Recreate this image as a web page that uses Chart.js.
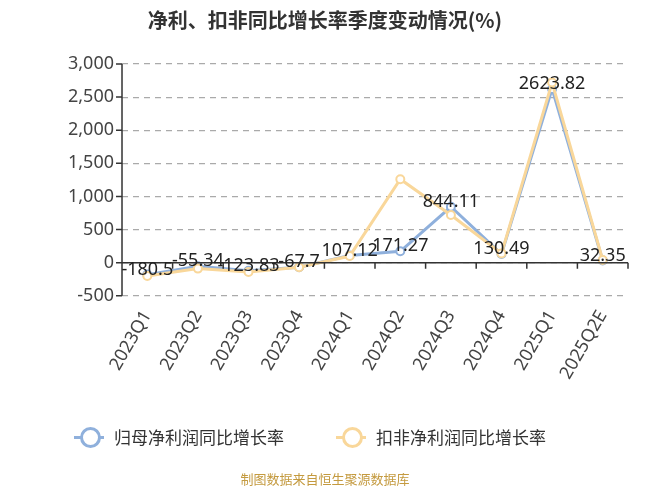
<!DOCTYPE html><html><head><meta charset="utf-8">
<script src="https://cdn.jsdelivr.net/npm/chart.js@4"></script>
<style>
body{margin:0;width:650px;height:488px;position:relative;font-family:"Noto Sans CJK SC","Noto Sans",sans-serif;background:#fff;overflow:hidden}
#t{position:absolute;top:5px;left:0;width:650px;text-align:center;font-size:20px;font-weight:bold;color:#333}
#c{position:absolute;left:0;top:0}
.lg{position:absolute;top:424px;font-size:17px;color:#333;display:flex;align-items:center}
.mk{position:relative;width:30px;height:20px;margin-right:10px}
.mk i{position:absolute;left:0;top:9px;width:30px;height:3px}
.mk b{position:absolute;left:6px;top:0px;width:15px;height:15px;border-radius:50%;background:#fff;border:3px solid}
#s{position:absolute;top:469px;width:650px;text-align:center;font-size:13px;color:#c49a3f}
</style></head><body>
<canvas id="c" width="650" height="488"></canvas>
<div id="t">净利、扣非同比增长率季度变动情况(%)</div>
<div class="lg" style="left:74px"><div class="mk"><i style="background:#8fb0dc"></i><b style="border-color:#8fb0dc"></b></div>归母净利润同比增长率</div>
<div class="lg" style="left:336px"><div class="mk"><i style="background:#f9d79a"></i><b style="border-color:#f9d79a"></b></div>扣非净利润同比增长率</div>
<div id="s">制图数据来自恒生聚源数据库</div>
<script>
const categories=["2023Q1","2023Q2","2023Q3","2023Q4","2024Q1","2024Q2","2024Q3","2024Q4","2025Q1","2025Q2E"];
const netProfit=[-180.5,-55.34,-123.83,-67.7,107.12,171.27,844.11,130.49,2623.82,32.35];
const deductedProfit=[-200,-90,-140,-70,100,1260,720,140,2720,40];
const yTicks=[-500,0,500,1000,1500,2000,2500,3000];
const blue="#8fb0dc",yellow="#f9d79a";
const plug={id:"p",afterDatasetsDraw(ch){
 const c=ch.ctx,x=ch.scales.x,y=ch.scales.y,y0=y.getPixelForValue(0);
 c.save();c.strokeStyle="#333";c.lineWidth=1.5;c.beginPath();c.moveTo(x.left,y0);c.lineTo(x.right,y0);
 for(let i=0;i<=categories.length;i++){const px=x.left+(x.right-x.left)*i/categories.length;c.moveTo(px,y0);c.lineTo(px,y0+6);}
 c.moveTo(x.left,y.top);c.lineTo(x.left,y.bottom);
 yTicks.forEach(v=>{const py=y.getPixelForValue(v);c.moveTo(x.left-6,py);c.lineTo(x.left,py);});
 c.stroke();
 c.font='18px "Noto Sans","DejaVu Sans",sans-serif';c.fillStyle="#222";c.textAlign="center";c.textBaseline="middle";
 const m=ch.getDatasetMeta(0);
 netProfit.forEach((v,i)=>{const p=m.data[i];c.fillText(String(v),p.x,p.y-5);});
 c.restore();}};
new Chart(document.getElementById("c"),{type:"line",
 data:{labels:categories,datasets:[
  {data:netProfit,order:2,borderColor:blue,backgroundColor:"#fff",borderWidth:3,pointRadius:4,pointBorderWidth:2,pointBackgroundColor:"#fff",tension:0},
  {data:deductedProfit,order:1,borderColor:yellow,backgroundColor:"#fff",borderWidth:3,pointRadius:4,pointBorderWidth:2,pointBackgroundColor:"#fff",tension:0}]},
 options:{responsive:false,animation:false,layout:{padding:{top:64,bottom:102,right:22,left:60}},
  plugins:{legend:{display:false},tooltip:{enabled:false}},
  scales:{
   x:{offset:true,grid:{display:false},border:{display:false},ticks:{minRotation:60,maxRotation:60,color:"#444",font:{size:18,family:"Noto Sans"}}},
   y:{min:-500,max:3000,afterBuildTicks(a){a.ticks=yTicks.map(v=>({value:v}));},
    grid:{color:"#aaa",lineWidth:1.2,drawTicks:false},border:{display:false,dash:[6,5]},
    ticks:{padding:8,color:"#444",font:{size:18,family:"Noto Sans"},callback:v=>v.toLocaleString("en-US")}}}},
 plugins:[plug]});
</script></body></html>
